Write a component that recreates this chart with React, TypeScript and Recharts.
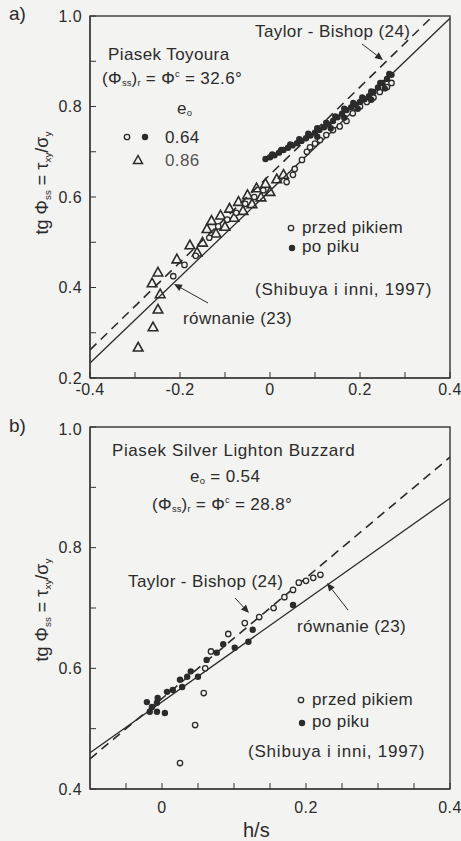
import React from 'react';
import { ScatterChart, Scatter, XAxis, YAxis, ReferenceLine } from 'recharts';

type Pt = { x: number; y: number };

const INK = '#2b2b2b';
const AX = '#333333';
const BG = '#f3f3f1';
const FONT = '"Liberation Sans", Arial, sans-serif';

// --- panel a: Piasek Toyoura ---
const aXTicks = [-0.4, -0.3, -0.2, -0.1, 0, 0.1, 0.2, 0.3, 0.4];
const aXLabels = [-0.4, -0.2, 0, 0.2, 0.4];
const aYTicks = [0.2, 0.3, 0.4, 0.5, 0.6, 0.7, 0.8, 0.9, 1.0];
const aYLabels = [0.2, 0.4, 0.6, 0.8, 1.0];

// e0 = 0.86 (triangles)
const aTri086: Pt[] = [
  { x: -0.293, y: 0.268 }, { x: -0.26, y: 0.313 }, { x: -0.249, y: 0.352 }, { x: -0.244, y: 0.386 },
  { x: -0.262, y: 0.41 }, { x: -0.249, y: 0.434 }, { x: -0.207, y: 0.463 }, { x: -0.178, y: 0.494 },
  { x: -0.162, y: 0.478 }, { x: -0.15, y: 0.5 }, { x: -0.14, y: 0.53 }, { x: -0.13, y: 0.548 },
  { x: -0.12, y: 0.52 }, { x: -0.11, y: 0.56 }, { x: -0.1, y: 0.535 }, { x: -0.09, y: 0.575 },
  { x: -0.08, y: 0.555 }, { x: -0.07, y: 0.59 }, { x: -0.06, y: 0.57 }, { x: -0.05, y: 0.605 },
  { x: -0.04, y: 0.585 }, { x: -0.03, y: 0.62 }, { x: -0.02, y: 0.6 }, { x: -0.01, y: 0.63 },
  { x: 0.0, y: 0.612 }, { x: 0.015, y: 0.64 }, { x: 0.03, y: 0.65 },
];

// e0 = 0.64, before peak (open)
const aOpen064: Pt[] = [
  { x: -0.215, y: 0.425 }, { x: -0.19, y: 0.45 }, { x: -0.165, y: 0.47 }, { x: -0.135, y: 0.51 },
  { x: -0.115, y: 0.535 }, { x: -0.095, y: 0.55 }, { x: -0.075, y: 0.565 }, { x: -0.055, y: 0.585 },
  { x: -0.035, y: 0.6 }, { x: -0.015, y: 0.615 }, { x: 0.037, y: 0.633 }, { x: 0.051, y: 0.649 },
  { x: 0.055, y: 0.662 }, { x: 0.071, y: 0.682 }, { x: 0.082, y: 0.7 }, { x: 0.089, y: 0.71 },
  { x: 0.1, y: 0.718 }, { x: 0.111, y: 0.726 }, { x: 0.125, y: 0.737 }, { x: 0.14, y: 0.748 },
  { x: 0.155, y: 0.756 }, { x: 0.17, y: 0.768 }, { x: 0.184, y: 0.785 }, { x: 0.2, y: 0.8 },
  { x: 0.215, y: 0.81 }, { x: 0.23, y: 0.82 }, { x: 0.244, y: 0.832 }, { x: 0.26, y: 0.843 },
  { x: 0.27, y: 0.852 },
];

// e0 = 0.64, after peak (filled) - dense band
const aFilled064: Pt[] = [
  { x: -0.01, y: 0.684 }, { x: 0.0, y: 0.688 }, { x: 0.01, y: 0.692 }, { x: 0.02, y: 0.698 },
  { x: 0.03, y: 0.704 }, { x: 0.04, y: 0.709 }, { x: 0.05, y: 0.714 }, { x: 0.06, y: 0.719 },
  { x: 0.07, y: 0.724 }, { x: 0.08, y: 0.73 }, { x: 0.09, y: 0.736 }, { x: 0.1, y: 0.742 },
  { x: 0.11, y: 0.748 }, { x: 0.12, y: 0.754 }, { x: 0.13, y: 0.76 }, { x: 0.14, y: 0.768 },
  { x: 0.15, y: 0.776 }, { x: 0.16, y: 0.784 }, { x: 0.17, y: 0.792 }, { x: 0.18, y: 0.798 },
  { x: 0.19, y: 0.804 }, { x: 0.2, y: 0.81 }, { x: 0.21, y: 0.816 }, { x: 0.22, y: 0.823 },
  { x: 0.23, y: 0.832 }, { x: 0.24, y: 0.842 }, { x: 0.25, y: 0.852 }, { x: 0.26, y: 0.861 },
  { x: 0.27, y: 0.87 },
  { x: 0.005, y: 0.694 }, { x: 0.025, y: 0.704 }, { x: 0.045, y: 0.716 }, { x: 0.065, y: 0.728 },
  { x: 0.085, y: 0.74 }, { x: 0.105, y: 0.752 }, { x: 0.125, y: 0.764 }, { x: 0.145, y: 0.778 },
  { x: 0.165, y: 0.795 }, { x: 0.185, y: 0.808 }, { x: 0.205, y: 0.82 }, { x: 0.225, y: 0.833 },
  { x: 0.245, y: 0.852 }, { x: 0.265, y: 0.872 },
  { x: 0.105, y: 0.733 }, { x: 0.135, y: 0.752 }, { x: 0.165, y: 0.775 }, { x: 0.195, y: 0.795 },
  { x: 0.225, y: 0.815 }, { x: 0.255, y: 0.84 },
];

const aEq23: Pt[] = [{ x: -0.4, y: 0.233 }, { x: 0.4, y: 0.995 }];
const aTaylorBishop: Pt[] = [{ x: -0.4, y: 0.262 }, { x: 0.362, y: 1.0 }];

// --- panel b: Piasek Silver Lighton Buzzard ---
const bXTicks = [-0.05, 0, 0.05, 0.1, 0.15, 0.2, 0.25, 0.3, 0.35, 0.4];
const bXLabels = [0, 0.2, 0.4];
const bYTicks = [0.4, 0.5, 0.6, 0.7, 0.8, 0.9, 1.0];
const bYLabels = [0.4, 0.6, 0.8, 1.0];

const bOpen: Pt[] = [
  { x: 0.025, y: 0.443 }, { x: 0.046, y: 0.506 }, { x: 0.058, y: 0.559 }, { x: 0.06, y: 0.6 },
  { x: 0.068, y: 0.628 }, { x: 0.092, y: 0.657 }, { x: 0.115, y: 0.675 }, { x: 0.135, y: 0.685 },
  { x: 0.155, y: 0.7 }, { x: 0.17, y: 0.718 }, { x: 0.182, y: 0.73 }, { x: 0.19, y: 0.742 },
  { x: 0.2, y: 0.745 }, { x: 0.21, y: 0.75 }, { x: 0.22, y: 0.755 },
];

const bFilled: Pt[] = [
  { x: -0.021, y: 0.544 }, { x: -0.014, y: 0.536 }, { x: -0.007, y: 0.543 }, { x: -0.017, y: 0.528 },
  { x: -0.007, y: 0.528 }, { x: 0.004, y: 0.526 }, { x: -0.006, y: 0.551 }, { x: 0.007, y: 0.561 },
  { x: 0.015, y: 0.564 }, { x: 0.025, y: 0.581 }, { x: 0.028, y: 0.569 }, { x: 0.035, y: 0.586 },
  { x: 0.05, y: 0.586 }, { x: 0.062, y: 0.614 }, { x: 0.076, y: 0.626 }, { x: 0.101, y: 0.634 },
  { x: 0.12, y: 0.644 }, { x: 0.126, y: 0.664 }, { x: 0.182, y: 0.705 }, { x: 0.04, y: 0.595 },
  { x: 0.085, y: 0.64 },
];

const bEq23: Pt[] = [{ x: -0.1, y: 0.46 }, { x: 0.4, y: 0.882 }];
const bTaylorBishop: Pt[] = [{ x: -0.1, y: 0.45 }, { x: 0.4, y: 0.95 }];

const near = (list: number[], v: number) => list.some((l) => Math.abs(l - v) < 1e-9);
const fmtX = (v: number) => (Math.abs(v) < 1e-9 ? '0' : v.toFixed(1));

const OpenDot = (p: any) => (
  <circle cx={p.cx} cy={p.cy} r={2.7} fill={BG} stroke={INK} strokeWidth={1.3} />
);
const FilledDot = (p: any) => <circle cx={p.cx} cy={p.cy} r={3.2} fill={INK} />;
const Tri = (p: any) => {
  const s = 4.8;
  return (
    <polygon
      points={`${p.cx},${p.cy - s} ${p.cx - s},${p.cy + s * 0.8} ${p.cx + s},${p.cy + s * 0.8}`}
      fill="none"
      stroke={INK}
      strokeWidth={1.6}
    />
  );
};

const T = ({ left, top, size = 17, ls = 0.4, children, color = INK }: any) => (
  <div
    style={{
      position: 'absolute', left, top, fontSize: size, lineHeight: 1, whiteSpace: 'nowrap',
      fontFamily: FONT, color, letterSpacing: ls,
    }}
  >
    {children}
  </div>
);

const Sub = ({ children }: any) => (
  <span style={{ fontSize: '0.55em', verticalAlign: '-0.25em', letterSpacing: 0 }}>{children}</span>
);
const Sup = ({ children }: any) => (
  <span style={{ fontSize: '0.55em', verticalAlign: '0.7em', letterSpacing: 0 }}>{children}</span>
);

const YLabel = ({ cx, cy }: { cx: number; cy: number }) => (
  <div
    style={{
      position: 'absolute', left: cx, top: cy, transform: 'translate(-50%, -50%) rotate(-90deg)',
      fontSize: 18, lineHeight: 1, whiteSpace: 'nowrap', fontFamily: FONT, color: INK,
    }}
  >
    tg Φ<Sub>ss</Sub> = τ<Sub>xy</Sub>/σ<Sub>y</Sub>
  </div>
);

const Arrow = ({ x1, y1, x2, y2 }: { x1: number; y1: number; x2: number; y2: number }) => {
  const dx = x2 - x1;
  const dy = y2 - y1;
  const len = Math.hypot(dx, dy);
  const ux = dx / len;
  const uy = dy / len;
  const h = 8;
  const w = 3.5;
  const bx = x2 - ux * h;
  const by = y2 - uy * h;
  return (
    <g>
      <line x1={x1} y1={y1} x2={bx} y2={by} stroke={INK} strokeWidth={1} />
      <polygon
        points={`${x2},${y2} ${bx - uy * w},${by + ux * w} ${bx + uy * w},${by - ux * w}`}
        fill={INK}
      />
    </g>
  );
};

const tickFont = { fill: INK, fontSize: 16, fontFamily: FONT, letterSpacing: 0.4 };

export default function App() {
  return (
    <div
      style={{
        position: 'absolute', left: 0, top: 0, width: 461, height: 841, background: BG, overflow: 'hidden',
      }}
    >
      <div style={{ position: 'absolute', left: 0, top: 0 }}>
        <ScatterChart width={461} height={420} margin={{ top: 16, right: 11, bottom: 12, left: 40 }}>
          <XAxis
            type="number" dataKey="x" domain={[-0.4, 0.4]} ticks={aXTicks} height={30}
            stroke={AX} tickSize={-6} tickMargin={12}
            tickFormatter={(v: number) => (near(aXLabels, v) ? fmtX(v) : '')}
            tick={tickFont}
          />
          <YAxis
            type="number" dataKey="y" domain={[0.2, 1.0]} ticks={aYTicks} width={50}
            stroke={AX} tickSize={-6} tickMargin={14}
            tickFormatter={(v: number) => (near(aYLabels, v) ? v.toFixed(1) : '')}
            tick={tickFont}
          />
          <ReferenceLine segment={aEq23} stroke={INK} strokeWidth={1.3} />
          <ReferenceLine segment={aTaylorBishop} stroke={INK} strokeWidth={1.6} strokeDasharray="9 6" />
          <Scatter name="0.86" data={aTri086} shape={Tri} isAnimationActive={false} />
          <Scatter name="0.64 przed pikiem" data={aOpen064} shape={OpenDot} isAnimationActive={false} />
          <Scatter name="0.64 po piku" data={aFilled064} shape={FilledDot} isAnimationActive={false} />
        </ScatterChart>
      </div>
      <div style={{ position: 'absolute', left: 0, top: 420 }}>
        <ScatterChart width={461} height={400} margin={{ top: 7, right: 11, bottom: 1, left: 40 }}>
          <XAxis
            type="number" dataKey="x" domain={[-0.1, 0.4]} ticks={bXTicks} height={30}
            stroke={AX} tickSize={-6} tickMargin={19}
            tickFormatter={(v: number) => (near(bXLabels, v) ? fmtX(v) : '')}
            tick={tickFont}
          />
          <YAxis
            type="number" dataKey="y" domain={[0.4, 1.0]} ticks={bYTicks} width={50}
            stroke={AX} tickSize={-6} tickMargin={14}
            tickFormatter={(v: number) => (near(bYLabels, v) ? v.toFixed(1) : '')}
            tick={tickFont}
          />
          <ReferenceLine segment={bEq23} stroke={INK} strokeWidth={1.3} />
          <ReferenceLine segment={bTaylorBishop} stroke={INK} strokeWidth={1.6} strokeDasharray="9 6" />
          <Scatter name="przed pikiem" data={bOpen} shape={OpenDot} isAnimationActive={false} />
          <Scatter name="po piku" data={bFilled} shape={FilledDot} isAnimationActive={false} />
        </ScatterChart>
      </div>

      {/* annotations, panel a */}
      <T left={9} top={4} size={19} ls={0}>a)</T>
      <T left={255} top={23}>Taylor - Bishop (24)</T>
      <T left={108} top={46}>Piasek Toyoura</T>
      <T left={102} top={70}>(Φ<Sub>ss</Sub>)<Sub>r</Sub> = Φ<Sup>c</Sup> = 32.6°</T>
      <T left={177} top={100}>e<Sub>o</Sub></T>
      <T left={165} top={129}>0.64</T>
      <T left={165} top={152} color="#555">0.86</T>
      <T left={302} top={219}>przed pikiem</T>
      <T left={302} top={238}>po piku</T>
      <T left={255} top={281} ls={0.8}>(Shibuya i inni, 1997)</T>
      <T left={183} top={310}>równanie (23)</T>
      <YLabel cx={43} cy={183} />

      {/* annotations, panel b */}
      <T left={9} top={416} size={19} ls={0}>b)</T>
      <T left={112} top={442} ls={0.6}>Piasek Silver Lighton Buzzard</T>
      <T left={190} top={468}>e<Sub>o</Sub> = 0.54</T>
      <T left={152} top={496}>(Φ<Sub>ss</Sub>)<Sub>r</Sub> = Φ<Sup>c</Sup> = 28.8°</T>
      <T left={128} top={573}>Taylor - Bishop (24)</T>
      <T left={297} top={618}>równanie (23)</T>
      <T left={312} top={691}>przed pikiem</T>
      <T left={312} top={713}>po piku</T>
      <T left={248} top={743} ls={0.8}>(Shibuya i inni, 1997)</T>
      <T left={243} top={820} size={20} ls={0}>h/s</T>
      <YLabel cx={43} cy={610} />

      <svg
        width={461} height={841}
        style={{ position: 'absolute', left: 0, top: 0, pointerEvents: 'none' }}
      >
        {/* plot frames */}
        <rect x={90} y={16} width={360} height={362} fill="none" stroke={AX} strokeWidth={1.4} />
        <rect x={90} y={427} width={360} height={362} fill="none" stroke={AX} strokeWidth={1.4} />
        <Arrow x1={362} y1={44} x2={383} y2={60} />
        <Arrow x1={208} y1={303} x2={174} y2={284} />
        <Arrow x1={235} y1={598} x2={249} y2={613} />
        <Arrow x1={348} y1={610} x2={327} y2={583} />
        <circle cx={127} cy={137} r={2.7} fill={BG} stroke={INK} strokeWidth={1.3} />
        <circle cx={145} cy={137} r={3.2} fill={INK} />
        <polygon points="138,155.5 133.5,163.6 142.5,163.6" fill="none" stroke={INK} strokeWidth={1.5} />
        <circle cx={291} cy={228} r={2.7} fill={BG} stroke={INK} strokeWidth={1.3} />
        <circle cx={292} cy={248} r={3.2} fill={INK} />
        <circle cx={301} cy={700} r={2.7} fill={BG} stroke={INK} strokeWidth={1.3} />
        <circle cx={302} cy={723} r={3.2} fill={INK} />
      </svg>
    </div>
  );
}
